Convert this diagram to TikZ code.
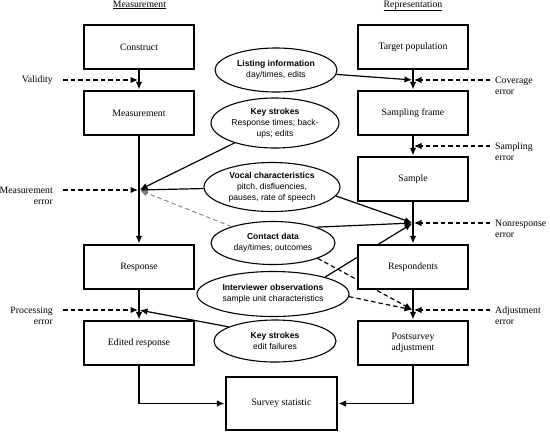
\documentclass[tikz,border=0pt]{standalone}
\usepackage{fontspec}
\setmainfont{Liberation Serif}
\setsansfont{Liberation Sans}
\usetikzlibrary{shapes.geometric, arrows.meta, backgrounds}
\tikzstyle{stage} = [rectangle, minimum width=110bp, minimum height=44bp, text centered, draw=black, line width=1.2bp, fill=white, font=\fontsize{9.8}{11}\selectfont]
\tikzstyle{paradata} = [ellipse, inner sep=0pt, align=center, draw=black, line width=1.1bp, fill=white, font=\sffamily\fontsize{8.6}{11}\selectfont]
\tikzstyle{errlabel} = [inner sep=0pt, font=\fontsize{9.8}{11}\selectfont]
\tikzstyle{arrow} = [line width=1.2bp, -{Latex[length=7.5bp,width=6.5bp]}, shorten >=1bp]
\tikzstyle{errarrow} = [arrow, dash pattern=on 4.5bp off 3bp]
\tikzstyle{softarrow} = [arrow, draw=gray, line width=0.9bp, dash pattern=on 4.5bp off 3bp]

\begin{document}
\begin{tikzpicture}[x=1bp, y=1bp, node distance=66bp]
\useasboundingbox (0,0) rectangle (550,-432);

\node (hmeas) [errlabel, anchor=base] at (139.5,-7) {\underline{Measurement}};
\node (hrep) [errlabel, anchor=base] at (413,-7) {\underline{Representation}};

% measurement side
\node (constr) [stage] at (139,-47) {Construct};
\node (meas) [stage, below of=constr] {Measurement};
\node (resp) [stage, below of=meas, yshift=-88bp] {Response};
\node (edit) [stage, below of=resp, yshift=-10bp] {Edited response};

% representation side
\node (target) [stage] at (413,-47) {Target population};
\node (frame) [stage, below of=target] {Sampling frame};
\node (sample) [stage, below of=frame] {Sample};
\node (respd) [stage, below of=sample, yshift=-22bp] {Respondents};
\node (post) [stage, below of=respd, yshift=-10bp, align=center] {Postsurvey\\adjustment};

\node (survey) [stage, minimum width=111bp, minimum height=53bp] at (281.5,-403.5) {Survey statistic};

% paradata
\node (listing) [paradata, minimum width=122bp, minimum height=44bp] at (276,-70) {\textbf{Listing information}\\day/times, edits};
\node (keys) [paradata, minimum width=128bp, minimum height=50bp] at (275,-123) {\textbf{Key strokes}\\Response times; back-\\ups; edits};
\node (vocal) [paradata, minimum width=136bp, minimum height=49bp] at (272,-187) {\textbf{Vocal characteristics}\\pitch, disfluencies,\\pauses, rate of speech};
\node (contact) [paradata, minimum width=124bp, minimum height=43bp] at (273,-243) {\textbf{Contact data}\\day/times; outcomes};
\node (observ) [paradata, minimum width=152bp, minimum height=45bp] at (273,-294) {\textbf{Interviewer observations}\\sample unit characteristics};
\node (editkeys) [paradata, minimum width=122bp, minimum height=42bp] at (275,-341) {\textbf{Key strokes}\\edit failures};

% error points
\coordinate (jval) at (139,-80);
\coordinate (jmerr) at (139,-190);
\coordinate (jproc) at (139,-310);
\coordinate (jcov) at (413,-80);
\coordinate (jsamp) at (413,-146);
\coordinate (jnonr) at (413,-223);
\coordinate (jadj) at (413,-310);

\node (lval) [errlabel, anchor=east] at (53,-80) {Validity};
\node (lmerr) [errlabel, anchor=east, align=right] at (53,-195.5) {Measurement\\error};
\node (lproc) [errlabel, anchor=east, align=right] at (53,-315.5) {Processing\\error};
\node (lcov) [errlabel, anchor=west, align=left] at (495,-85.5) {Coverage\\error};
\node (lsamp) [errlabel, anchor=west, align=left] at (495,-151.5) {Sampling\\error};
\node (lnonr) [errlabel, anchor=west, align=left] at (495,-228.5) {Nonresponse\\error};
\node (ladj) [errlabel, anchor=west, align=left] at (495,-315.5) {Adjustment\\error};

\draw [arrow] (constr) -- (meas);
\draw [arrow] (meas) -- (resp);
\draw [arrow] (resp) -- (edit);
\draw [arrow] (edit) |- (survey);
\draw [arrow] (target) -- (frame);
\draw [arrow] (frame) -- (sample);
\draw [arrow] (sample) -- (respd);
\draw [arrow] (respd) -- (post);
\draw [arrow] (post) |- (survey);

\draw [errarrow, shorten <=10bp] (lval.east) -- (jval);
\draw [errarrow, shorten <=10bp] (lmerr.east |- jmerr) -- (jmerr);
\draw [errarrow, shorten <=10bp] (lproc.east |- jproc) -- (jproc);
\draw [errarrow, shorten <=5bp] (lcov.west |- jcov) -- (jcov);
\draw [errarrow, shorten <=5bp] (lsamp.west |- jsamp) -- (jsamp);
\draw [errarrow, shorten <=5bp] (lnonr.west |- jnonr) -- (jnonr);
\draw [errarrow, shorten <=5bp] (ladj.west |- jadj) -- (jadj);

\draw [arrow] (listing) -- (jcov);
\draw [arrow] (keys) -- (jmerr);
\draw [arrow] (vocal) -- (jmerr);
\draw [softarrow] (contact) -- (jmerr);
\draw [arrow] (contact.20) -- (jnonr);
\draw [errarrow] (observ.-2) -- (jadj);
\draw [arrow] (editkeys.163) -- (jproc);
\begin{pgfonlayer}{background}
\draw [arrow] (vocal.-8) -- (jnonr);
\draw [arrow] (observ.18) -- (jnonr);
\draw [errarrow] (contact.-19) -- (jadj);
\end{pgfonlayer}

\end{tikzpicture}
\end{document}
